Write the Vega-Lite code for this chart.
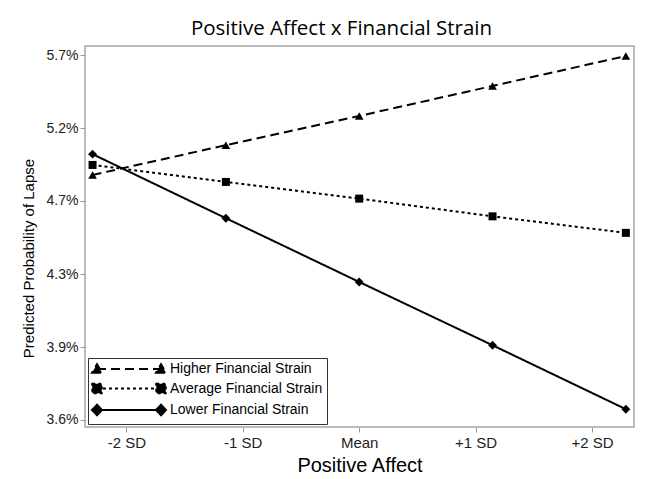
{
  "$schema": "https://vega.github.io/schema/vega-lite/v6.json",
  "width": 549,
  "height": 381,
  "padding": {"left": 21, "top": 18, "right": 10, "bottom": 5},
  "background": "white",
  "title": {
    "text": "Positive Affect x Financial Strain",
    "font": "Open Sans",
    "fontSize": 20.5,
    "fontWeight": "normal",
    "color": "black",
    "offset": 7,
    "dx": -18
  },
  "config": {
    "view": {"stroke": "#a6a6a6", "strokeWidth": 1.5},
    "axis": {
      "domain": false,
      "grid": false,
      "tickColor": "#999999",
      "tickSize": 5,
      "labelFont": "Liberation Sans",
      "titleFont": "Liberation Sans",
      "labelColor": "#222222",
      "titleColor": "black",
      "titleFontWeight": "normal"
    }
  },
  "data": {
    "values": [
      {"series": "Higher Financial Strain", "sd": -2.29, "p": 4.901},
      {"series": "Higher Financial Strain", "sd": -1.145, "p": 5.088},
      {"series": "Higher Financial Strain", "sd": 0, "p": 5.279},
      {"series": "Higher Financial Strain", "sd": 1.145, "p": 5.482},
      {"series": "Higher Financial Strain", "sd": 2.29, "p": 5.693},
      {"series": "Average Financial Strain", "sd": -2.29, "p": 4.963},
      {"series": "Average Financial Strain", "sd": -1.145, "p": 4.858},
      {"series": "Average Financial Strain", "sd": 0, "p": 4.757},
      {"series": "Average Financial Strain", "sd": 1.145, "p": 4.652},
      {"series": "Average Financial Strain", "sd": 2.29, "p": 4.556},
      {"series": "Lower Financial Strain", "sd": -2.29, "p": 5.031},
      {"series": "Lower Financial Strain", "sd": -1.145, "p": 4.641},
      {"series": "Lower Financial Strain", "sd": 0, "p": 4.283},
      {"series": "Lower Financial Strain", "sd": 1.145, "p": 3.955},
      {"series": "Lower Financial Strain", "sd": 2.29, "p": 3.649}
    ]
  },
  "encoding": {
    "x": {
      "field": "sd",
      "type": "quantitative",
      "scale": {"domain": [-2.355, 2.36], "nice": false, "zero": false},
      "axis": {
        "title": "Positive Affect",
        "titleFontSize": 20,
        "titlePadding": 5,
        "labelFontSize": 15,
        "labelPadding": 3,
        "values": [-2, -1, 0, 1, 2],
        "labelExpr": "datum.value === 0 ? 'Mean' : (datum.value > 0 ? '+' : '') + datum.value + ' SD'"
      }
    },
    "y": {
      "field": "p",
      "type": "quantitative",
      "scale": {"type": "log", "domain": [3.568, 5.765], "nice": false, "zero": false},
      "axis": {
        "title": "Predicted Probability of Lapse",
        "titleFontSize": 15,
        "titlePadding": 10,
        "titleY": 212,
        "labelFontSize": 14,
        "labelPadding": 2,
        "values": [3.6, 3.946, 4.326, 4.743, 5.199, 5.7],
        "labelExpr": "format(datum.value, '.1f') + '%'"
      }
    }
  },
  "layer": [
    {
      "mark": {"type": "line", "color": "black", "strokeWidth": 2},
      "encoding": {
        "strokeDash": {
          "field": "series",
          "type": "nominal",
          "scale": {
            "domain": ["Higher Financial Strain", "Average Financial Strain", "Lower Financial Strain"],
            "range": [[9, 5], [3, 3], [1, 0]]
          },
          "legend": {
            "orient": "bottom-left",
            "offset": 3,
            "title": null,
            "strokeColor": "#333333",
            "fillColor": "white",
            "padding": 4,
            "labelFont": "Liberation Sans",
            "labelFontSize": 14,
            "labelColor": "black",
            "symbolSize": 100,
            "symbolStrokeWidth": 2,
            "symbolStrokeColor": "black",
            "symbolFillColor": "black",
            "symbolOffset": 30,
            "labelOffset": 34,
            "rowPadding": 2.5,
            "symbolType": "M-6.5,0L6.5,0",
            "encode": {
              "symbols": {
                "update": {
                  "shape": {"signal": "datum.value === 'Higher Financial Strain' ? 'M-6.4,0L6.4,0M-7.4,0.75L-5.4,0.75L-6.4,-0.95ZM5.4,0.75L7.4,0.75L6.4,-0.95Z' : (datum.value === 'Average Financial Strain' ? 'M-6.4,0L6.4,0M-7.35,-0.95L-5.45,-0.95L-5.45,0.95L-7.35,0.95ZM5.45,-0.95L7.35,-0.95L7.35,0.95L5.45,0.95Z' : 'M-6.4,0L6.4,0M-7.4,0L-6.4,-1.05L-5.4,0L-6.4,1.05ZM5.4,0L6.4,-1.05L7.4,0L6.4,1.05Z')"},
                  "size": {"value": 100},
                  "fill": {"value": "black"},
                  "stroke": {"value": "black"},
                  "strokeWidth": {"value": 2}
                }
              }
            }
          }
        }
      }
    },
    {
      "transform": [{"filter": {"field": "series", "equal": "Higher Financial Strain"}}],
      "mark": {"type": "point", "shape": "triangle-up", "filled": true, "color": "black", "opacity": 1, "size": 75},
      "encoding": {}
    },
    {
      "transform": [{"filter": {"field": "series", "equal": "Average Financial Strain"}}],
      "mark": {"type": "point", "shape": "square", "filled": true, "color": "black", "opacity": 1, "size": 64},
      "encoding": {}
    },
    {
      "transform": [{"filter": {"field": "series", "equal": "Lower Financial Strain"}}],
      "mark": {"type": "point", "shape": "diamond", "filled": true, "color": "black", "opacity": 1, "size": 80},
      "encoding": {}
    }
  ]
}
